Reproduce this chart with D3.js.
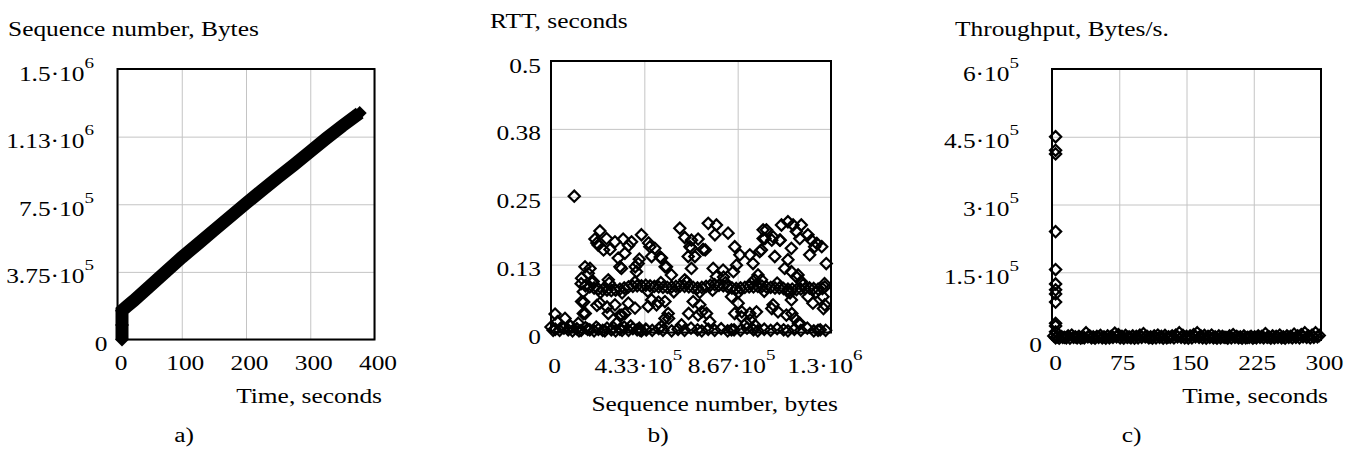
<!DOCTYPE html>
<html>
<head>
<meta charset="utf-8">
<script src="https://cdn.jsdelivr.net/npm/d3@7"></script>
<style>
  body { margin: 0; background: #fff; }
  svg { display: block; }
</style>
</head>
<body>
<svg></svg>
<script>
const w = 1346;
const h = 450;
const sx = 1.27; // the picture is stretched sideways

// a) sequence number vs time
const seqTime = [7, 7, 7, 15, 25, 50, 75, 100, 125, 150, 175, 200, 225, 250, 275, 300, 325, 350, 377];
const seqBytes = [0, 8e4, 1.6e5, 1.85e5, 2.15e5, 2.95e5, 3.75e5, 4.55e5, 5.3e5, 6.05e5, 6.8e5, 7.55e5,
    8.28e5, 9.0e5, 9.7e5, 1.043e6, 1.115e6, 1.185e6, 1.256e6];
const seqTicksX = [0, 100, 200, 300, 400];
const seqTicksY = [0, 3.75e5, 7.5e5, 1.125e6, 1.5e6];
const seqLabelsY = ['0', '3.75\u00b710^5', '7.5\u00b710^5', '1.13\u00b710^6', '1.5\u00b710^6'];

// b) rtt vs sequence number  [bytes, seconds]
const rttUpper = [
    [108e3, 0.251], [227e3, 0.187], [204e3, 0.172], [219e3, 0.161], [258e3, 0.173], [297e3, 0.167],
    [274e3, 0.153], [312e3, 0.137], [320e3, 0.121], [158e3, 0.121], [181e3, 0.118], [173e3, 0.109],
    [142e3, 0.100], [196e3, 0.094], [266e3, 0.097], [335e3, 0.172], [374e3, 0.167], [420e3, 0.180],
    [343e3, 0.146], [327e3, 0.118], [459e3, 0.158], [482e3, 0.155], [467e3, 0.140], [513e3, 0.137],
    [536e3, 0.121], [559e3, 0.106], [598e3, 0.192], [621e3, 0.175], [645e3, 0.158], [637e3, 0.140],
    [405e3, 0.127], [397e3, 0.112], [621e3, 0.097], [730e3, 0.201], [768e3, 0.198], [761e3, 0.180],
    [822e3, 0.183], [652e3, 0.170], [683e3, 0.172], [652e3, 0.155], [706e3, 0.153], [668e3, 0.140],
    [652e3, 0.118], [853e3, 0.158], [877e3, 0.143], [861e3, 0.124], [923e3, 0.143], [938e3, 0.127],
    [969e3, 0.149], [985e3, 0.173], [985e3, 0.189], [753e3, 0.118], [799e3, 0.115], [768e3, 0.103],
    [961e3, 0.106], [946e3, 0.097], [1100e3, 0.204], [1070e3, 0.198], [1124e3, 0.198], [1162e3, 0.198],
    [1000e3, 0.189], [1031e3, 0.176], [993e3, 0.173], [1139e3, 0.186], [1193e3, 0.180], [1155e3, 0.173],
    [1209e3, 0.170], [1062e3, 0.170], [1224e3, 0.158], [977e3, 0.152], [1039e3, 0.140], [1116e3, 0.155],
    [1201e3, 0.143], [1278e3, 0.127], [1100e3, 0.134], [1085e3, 0.118], [1116e3, 0.112], [1147e3, 0.106],
    [1162e3, 0.094], [977e3, 0.097], [410e3, 0.135], [391e3, 0.121], [1257e3, 0.158], [1234e3, 0.164],
    [213e3, 0.165], [244e3, 0.152], [360e3, 0.160], [453e3, 0.165], [507e3, 0.139], [530e3, 0.121],
    [716e3, 0.152], [847e3, 0.112], [801e3, 0.102], [1025e3, 0.170], [1064e3, 0.170], [1140e3, 0.102]
];
const rttBand = [
    [140e3, 0.090], [160e3, 0.086], [180e3, 0.084], [200e3, 0.082], [220e3, 0.080], [240e3, 0.079],
    [260e3, 0.078], [280e3, 0.077], [300e3, 0.078], [320e3, 0.080], [340e3, 0.082], [360e3, 0.084],
    [380e3, 0.085], [400e3, 0.086], [420e3, 0.086], [440e3, 0.087], [460e3, 0.086], [480e3, 0.085],
    [500e3, 0.084], [520e3, 0.083], [540e3, 0.083], [560e3, 0.084], [580e3, 0.085], [600e3, 0.086],
    [620e3, 0.085], [640e3, 0.084], [660e3, 0.083], [680e3, 0.082], [700e3, 0.083], [720e3, 0.085],
    [740e3, 0.087], [760e3, 0.088], [780e3, 0.087], [800e3, 0.086], [820e3, 0.084], [840e3, 0.082],
    [860e3, 0.081], [880e3, 0.082], [900e3, 0.083], [920e3, 0.084], [940e3, 0.084], [960e3, 0.085],
    [980e3, 0.085], [1000e3, 0.084], [1020e3, 0.083], [1040e3, 0.082], [1060e3, 0.082], [1080e3, 0.081],
    [1100e3, 0.080], [1120e3, 0.080], [1140e3, 0.079], [1160e3, 0.080], [1180e3, 0.081], [1200e3, 0.082],
    [1220e3, 0.081], [1240e3, 0.080], [1260e3, 0.081],
    [150e3, 0.075], [190e3, 0.092], [230e3, 0.074], [270e3, 0.091], [330e3, 0.073], [390e3, 0.093],
    [450e3, 0.076], [510e3, 0.092], [570e3, 0.075], [630e3, 0.093], [690e3, 0.074], [750e3, 0.078],
    [810e3, 0.092], [870e3, 0.074], [930e3, 0.091], [990e3, 0.076], [1050e3, 0.091], [1110e3, 0.073],
    [1170e3, 0.088], [1230e3, 0.074], [1270e3, 0.090]
];
const rttLower = [
    [142e3, 0.057], [227e3, 0.054], [297e3, 0.051], [150e3, 0.035], [266e3, 0.035], [19e3, 0.034],
    [65e3, 0.026], [127e3, 0.017], [304e3, 0.017], [320e3, 0.032], [359e3, 0.054], [390e3, 0.045],
    [343e3, 0.035], [467e3, 0.060], [451e3, 0.048], [490e3, 0.051], [529e3, 0.057], [529e3, 0.026],
    [513e3, 0.011], [544e3, 0.035], [443e3, 0.005], [606e3, 0.014], [660e3, 0.057], [691e3, 0.051],
    [683e3, 0.032], [722e3, 0.035], [737e3, 0.020], [838e3, 0.066], [869e3, 0.054], [853e3, 0.035],
    [884e3, 0.029], [923e3, 0.035], [954e3, 0.038], [907e3, 0.017], [838e3, 0.005], [1100e3, 0.075],
    [1116e3, 0.060], [1031e3, 0.051], [1054e3, 0.038], [1093e3, 0.032], [1132e3, 0.026], [1155e3, 0.017],
    [1271e3, 0.084], [1263e3, 0.066], [1271e3, 0.051], [1193e3, 0.066], [1216e3, 0.054], [1240e3, 0.004],
    [152e3, 0.056], [159e3, 0.035], [213e3, 0.050], [260e3, 0.047], [329e3, 0.032], [414e3, 0.004],
    [499e3, 0.056], [546e3, 0.026], [639e3, 0.035], [700e3, 0.038], [886e3, 0.038], [925e3, 0.023],
    [948e3, 0.013], [1025e3, 0.044], [1118e3, 0.035], [1149e3, 0.017], [1265e3, 0.044]
];
const rttBottom = [
    [0, 0.010], [20e3, 0.006], [40e3, 0.004], [60e3, 0.008], [80e3, 0.005], [100e3, 0.003],
    [120e3, 0.007], [140e3, 0.004], [160e3, 0.009], [180e3, 0.005], [200e3, 0.003], [220e3, 0.006],
    [240e3, 0.004], [260e3, 0.008], [280e3, 0.005], [300e3, 0.003], [320e3, 0.006], [340e3, 0.010],
    [360e3, 0.004], [380e3, 0.007], [400e3, 0.005], [420e3, 0.003], [440e3, 0.006], [470e3, 0.004],
    [500e3, 0.007], [520e3, 0.004], [560e3, 0.003], [590e3, 0.006], [620e3, 0.004], [650e3, 0.008],
    [680e3, 0.005], [700e3, 0.003], [730e3, 0.006], [760e3, 0.004], [790e3, 0.007], [820e3, 0.003],
    [850e3, 0.005], [880e3, 0.004], [910e3, 0.008], [940e3, 0.005], [960e3, 0.003], [990e3, 0.006],
    [1020e3, 0.004], [1050e3, 0.007], [1080e3, 0.005], [1100e3, 0.003], [1130e3, 0.006], [1160e3, 0.004],
    [1190e3, 0.008], [1220e3, 0.003], [1250e3, 0.005], [1275e3, 0.004], [30e3, 0.020],
    [10e3, 0.004], [50e3, 0.010], [90e3, 0.012], [130e3, 0.003], [170e3, 0.006], [210e3, 0.010],
    [250e3, 0.003], [290e3, 0.009], [330e3, 0.004], [370e3, 0.012], [410e3, 0.008]
];
const rttTicksX = [0, 1.3e6 / 3, 2.6e6 / 3, 1.3e6];
const rttLabelsX = ['0', '4.33\u00b710^5', '8.67\u00b710^5', '1.3\u00b710^6'];
const rttTicksY = [0, 0.125, 0.25, 0.375, 0.5];
const rttLabelsY = ['0', '0.13', '0.25', '0.38', '0.5'];

// c) throughput vs time  [seconds, bytes/s]
const tputStart = [
    [4, 4.5e5], [4, 4.2e5], [4, 4.12e5], [4, 2.4e5], [4, 1.56e5], [4, 1.24e5],
    [4, 1.11e5], [4, 1.02e5], [4, 8.4e4], [4, 3.7e4], [4, 3.1e4], [4, 1.8e4]
];
const tputTime = [2, 6, 10, 14, 18, 22, 26, 30, 34, 38, 42, 46, 50, 54, 58, 62, 66, 70, 74, 78, 82, 86, 90, 94,
    98, 102, 106, 110, 114, 118, 122, 126, 130, 134, 138, 142, 146, 150, 154, 158, 162, 166, 170, 174, 178,
    182, 186, 190, 194, 198, 202, 206, 210, 214, 218, 222, 226, 230, 234, 238, 242, 246, 250, 254, 258, 262,
    266, 270, 274, 278, 282, 286, 290, 294, 298];
const tputRate = [9e3, 7e3, 8e3, 6e3, 9e3, 1.1e4, 7e3, 8e3, 6e3, 1.6e4, 9e3, 7e3, 8e3, 1.0e4, 7e3, 9e3, 8e3,
    1.5e4, 1.2e4, 8e3, 1.0e4, 7e3, 9e3, 8e3, 1.1e4, 1.4e4, 8e3, 7e3, 9e3, 1.1e4, 8e3, 1.0e4, 7e3, 9e3, 1.1e4,
    1.6e4, 1.0e4, 8e3, 9e3, 1.2e4, 1.6e4, 9e3, 1.0e4, 8e3, 1.1e4, 7e3, 9e3, 8e3, 6e3, 9e3, 1.2e4, 8e3, 7e3,
    9e3, 6e3, 8e3, 7e3, 9e3, 8e3, 1.4e4, 7e3, 9e3, 8e3, 1.1e4, 7e3, 9e3, 8e3, 1.3e4, 9e3, 1.2e4, 1.6e4, 9e3,
    1.1e4, 1.6e4, 1.0e4];
// second row of the dense band, between the points above
const tputTime2 = [4, 8, 12, 16, 20, 24, 28, 32, 36, 40, 44, 48, 52, 56, 60, 64, 68, 72, 76, 80, 84, 88, 92, 96,
    100, 104, 108, 112, 116, 120, 124, 128, 132, 136, 140, 144, 148, 152, 156, 160, 164, 168, 172, 176, 180,
    184, 188, 192, 196, 200, 204, 208, 212, 216, 220, 224, 228, 232, 236, 240, 244, 248, 252, 256, 260, 264,
    268, 272, 276, 280, 284, 288, 292, 296];
const tputRate2 = [5e3, 4e3, 6e3, 5e3, 4e3, 6e3, 5e3, 4e3, 5e3, 7e3, 5e3, 4e3, 6e3, 5e3, 4e3, 5e3, 6e3,
    7e3, 5e3, 4e3, 6e3, 5e3, 4e3, 5e3, 6e3, 7e3, 5e3, 4e3, 5e3, 6e3, 4e3, 5e3, 6e3, 5e3, 7e3, 6e3, 5e3, 4e3,
    5e3, 7e3, 6e3, 5e3, 4e3, 6e3, 5e3, 4e3, 5e3, 6e3, 4e3, 5e3, 6e3, 5e3, 4e3, 5e3, 6e3, 4e3, 5e3, 6e3,
    5e3, 6e3, 4e3, 5e3, 6e3, 5e3, 4e3, 6e3, 5e3, 6e3, 5e3, 7e3, 6e3, 5e3, 6e3, 7e3];
const tputTicksX = [0, 75, 150, 225, 300];
const tputTicksY = [0, 1.5e5, 3e5, 4.5e5, 6e5];
const tputLabelsY = ['0', '1.5\u00b710^5', '3\u00b710^5', '4.5\u00b710^5', '6\u00b710^5'];

const svg = d3.select('svg').attr('width', w).attr('height', h);

function addText(g, x, y, str, anchor) {
    const t = g.append('text')
        .attr('transform', 'translate(' + x + ',' + y + ') scale(' + sx + ',1)')
        .attr('text-anchor', anchor)
        .attr('font-family', 'Liberation Serif')
        .attr('font-size', 20)
        .attr('fill', '#000');
    const parts = str.split('^');
    t.append('tspan').text(parts[0]);
    if (parts[1]) t.append('tspan').attr('font-size', 15).attr('dy', -13).text(parts[1]);
    return t;
}

const diamond = (r) => 'M0,' + -r + 'L' + r + ',0L0,' + r + 'L' + -r + ',0Z';

function panel(cfg) {
    const g = svg.append('g');
    const x = d3.scaleLinear().domain(cfg.xDomain).range([cfg.left, cfg.right]);
    const y = d3.scaleLinear().domain(cfg.yDomain).range([cfg.bottom, cfg.top]);

    // grid
    g.append('g')
        .attr('transform', 'translate(0,' + cfg.bottom + ')')
        .call(d3.axisBottom(x).tickValues(cfg.xTicks).tickSize(-(cfg.bottom - cfg.top)).tickFormat(''))
        .call((a) => a.select('.domain').remove())
        .selectAll('line').attr('stroke', '#c4c4c4');
    g.append('g')
        .attr('transform', 'translate(' + cfg.left + ',0)')
        .call(d3.axisLeft(y).tickValues(cfg.yTicks).tickSize(-(cfg.right - cfg.left)).tickFormat(''))
        .call((a) => a.select('.domain').remove())
        .selectAll('line').attr('stroke', '#c4c4c4');

    g.append('rect')
        .attr('x', cfg.left).attr('y', cfg.top)
        .attr('width', cfg.right - cfg.left).attr('height', cfg.bottom - cfg.top)
        .attr('fill', 'none').attr('stroke', '#000').attr('stroke-width', 2);

    // tick labels
    cfg.yTicks.forEach((v, i) => {
        const lab = cfg.yLabels[i];
        const off = lab.includes('^') ? cfg.ySciGap : 10;
        addText(g, cfg.left - off, y(v) + 11.5, lab, 'end');
    });
    cfg.xTicks.forEach((v, i) => {
        const lab = cfg.xLabels[i];
        const off = lab.includes('^') ? -6 : 3.5;
        addText(g, x(v) + off, cfg.xLabelY, lab, 'middle');
    });

    addText(g, cfg.titleX, cfg.titleY, cfg.title, 'start');
    addText(g, cfg.xTitleX, cfg.xTitleY, cfg.xTitle, 'end');
    addText(g, (cfg.left + cfg.right) / 2 + cfg.letterDx, 442, cfg.letter, 'middle');

    return { g, x, y };
}

// a)
const pa = panel({
    left: 117.5, right: 374.5, top: 69, bottom: 339.5,
    xDomain: [0, 400], yDomain: [0, 1.5e6],
    xTicks: seqTicksX, xLabels: seqTicksX.map(String), yTicks: seqTicksY, yLabels: seqLabelsY,
    ySciGap: 23.5, xLabelY: 370,
    title: 'Sequence number, Bytes', titleX: 8, titleY: 36,
    xTitle: 'Time, seconds', xTitleX: 382, xTitleY: 403,
    letter: 'a)', letterDx: -62
});
const seqPts = seqTime.map((t, i) => [t, seqBytes[i]]);
pa.g.append('path')
    .datum(seqPts)
    .attr('fill', 'none').attr('stroke', '#000').attr('stroke-width', 13)
    .attr('d', d3.line().x((d) => pa.x(d[0])).y((d) => pa.y(d[1])));
pa.g.selectAll('.pt').data(seqPts).enter().append('path')
    .attr('transform', (d) => 'translate(' + pa.x(d[0]) + ',' + pa.y(d[1]) + ')')
    .attr('d', diamond(7)).attr('fill', '#000');

// b)
const pb = panel({
    left: 551, right: 831, top: 61, bottom: 332.5,
    xDomain: [0, 1.3e6], yDomain: [0, 0.5],
    xTicks: rttTicksX, xLabels: rttLabelsX, yTicks: rttTicksY, yLabels: rttLabelsY,
    ySciGap: 10, xLabelY: 373,
    title: 'RTT, seconds', titleX: 490, titleY: 28,
    xTitle: 'Sequence number, bytes', xTitleX: 838, xTitleY: 411,
    letter: 'b)', letterDx: -33
});
const rttPts = rttBottom.concat(rttLower, rttBand, rttUpper);
pb.g.selectAll('.pt').data(rttPts).enter().append('path')
    .attr('transform', (d) => 'translate(' + pb.x(d[0]) + ',' + pb.y(d[1]) + ')')
    .attr('d', diamond(5.6)).attr('fill', 'none').attr('stroke', '#000').attr('stroke-width', 2.2);

// c)
const pc = panel({
    left: 1052, right: 1321, top: 69, bottom: 340,
    xDomain: [0, 300], yDomain: [0, 6e5],
    xTicks: tputTicksX, xLabels: tputTicksX.map(String), yTicks: tputTicksY, yLabels: tputLabelsY,
    ySciGap: 33, xLabelY: 370,
    title: 'Throughput, Bytes/s.', titleX: 955, titleY: 36,
    xTitle: 'Time, seconds', xTitleX: 1328, xTitleY: 403,
    letter: 'c)', letterDx: -55
});
const tputPts = tputTime.map((t, i) => [t, tputRate[i]])
    .concat(tputTime2.map((t, i) => [t, tputRate2[i]]), tputStart);
pc.g.selectAll('.pt').data(tputPts).enter().append('path')
    .attr('transform', (d) => 'translate(' + pc.x(d[0]) + ',' + pc.y(d[1]) + ')')
    .attr('d', diamond(5.6)).attr('fill', 'none').attr('stroke', '#000').attr('stroke-width', 2.2);
</script>
</body>
</html>
